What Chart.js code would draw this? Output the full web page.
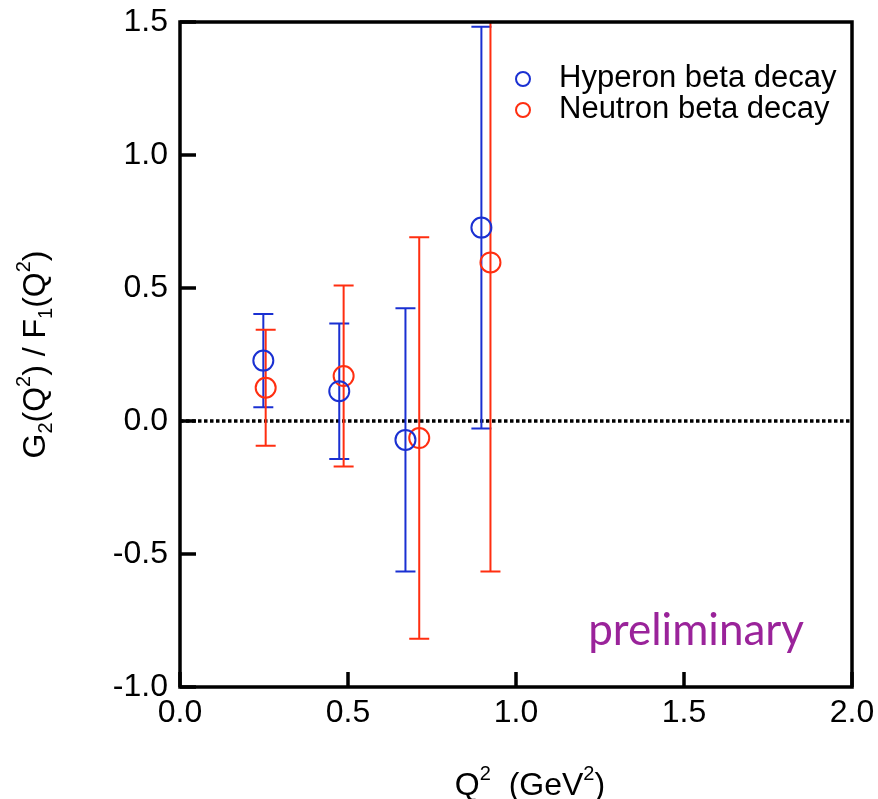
<!DOCTYPE html>
<html>
<head>
<meta charset="utf-8">
<script src="https://cdn.jsdelivr.net/npm/chart.js@4"></script>
<style>
  html, body { margin: 0; padding: 0; background: #fff; }
  #wrap { width: 878px; height: 799px; }
</style>
</head>
<body>
<div id="wrap"><canvas id="g2Chart" width="878" height="799"></canvas></div>
<script>
// Q^2 (GeV^2) y G2/F1
const q2Hyperon = [0.248, 0.474, 0.671, 0.897];
const ratioHyperon = [0.227, 0.112, -0.071, 0.727];
const errHyperon = [0.175, 0.255, 0.495, 0.755];

const q2Neutron = [0.255, 0.487, 0.712, 0.924];
const ratioNeutron = [0.125, 0.169, -0.064, 0.596];
const errNeutron = [0.218, 0.34, 0.755, 1.162];

const xTicks = [0.0, 0.5, 1.0, 1.5, 2.0];
const yTicks = [-1.0, -0.5, 0.0, 0.5, 1.0, 1.5];

const BLUE = '#1a30d2';
const RED = '#ff2e10';
const FONT = '"Liberation Sans", Arial, sans-serif';

const toPoints = (xs, ys, es) => xs.map((x, i) => ({ x: x, y: ys[i], err: es[i] }));

// trozos de texto: [texto, 0 normal | 1 superíndice | -1 subíndice]
const xTitle = [['Q', 0], ['2', 1], ['  (GeV', 0], ['2', 1], [')', 0]];
const yTitle = [['G', 0], ['2', -1], ['(Q', 0], ['2', 1], [') / F', 0], ['1', -1], ['(Q', 0], ['2', 1], [')', 0]];

function drawRich(ctx, parts, cx, baseline) {
    const big = '32px ' + FONT, small = '20px ' + FONT;
    let w = 0;
    parts.forEach(([t, k]) => { ctx.font = k ? small : big; w += ctx.measureText(t).width; });
    let x = cx - w / 2;
    ctx.textAlign = 'left';
    ctx.textBaseline = 'alphabetic';
    parts.forEach(([t, k]) => {
        ctx.font = k ? small : big;
        const dy = k === 1 ? -15 : (k === -1 ? 7 : 0);
        ctx.fillText(t, x, baseline + dy);
        x += ctx.measureText(t).width;
    });
}

// barras de error, marco, ticks hacia dentro, línea de cero, leyenda y texto
const decorations = {
    id: 'decorations',
    beforeDatasetsDraw(chart) {
        const { ctx, chartArea: a, scales: { x, y } } = chart;
        ctx.save();
        ctx.beginPath();
        ctx.rect(a.left, a.top, a.right - a.left, a.bottom - a.top);
        ctx.clip();

        // línea punteada en y = 0
        ctx.strokeStyle = '#000';
        ctx.lineWidth = 3.5;
        ctx.setLineDash([3.5, 2.5]);
        ctx.beginPath();
        ctx.moveTo(a.left, y.getPixelForValue(0));
        ctx.lineTo(a.right, y.getPixelForValue(0));
        ctx.stroke();
        ctx.setLineDash([]);

        chart.data.datasets.forEach(ds => {
            ctx.strokeStyle = ds.borderColor;
            ctx.lineWidth = 2;
            ds.data.forEach(p => {
                const px = x.getPixelForValue(p.x);
                const top = y.getPixelForValue(p.y + p.err);
                const bot = y.getPixelForValue(p.y - p.err);
                ctx.beginPath();
                ctx.moveTo(px, top);
                ctx.lineTo(px, bot);
                ctx.moveTo(px - 10, top);
                ctx.lineTo(px + 10, top);
                ctx.moveTo(px - 10, bot);
                ctx.lineTo(px + 10, bot);
                ctx.stroke();
            });
        });
        ctx.restore();
    },
    afterDatasetsDraw(chart) {
        const { ctx, chartArea: a, scales: { x, y } } = chart;
        ctx.save();
        ctx.strokeStyle = '#000';
        ctx.lineWidth = 3.5;
        ctx.strokeRect(a.left, a.top, a.right - a.left, a.bottom - a.top);

        ctx.beginPath();
        xTicks.forEach(v => {
            const px = x.getPixelForValue(v);
            ctx.moveTo(px, a.bottom);
            ctx.lineTo(px, a.bottom - 15);
        });
        yTicks.forEach(v => {
            const py = y.getPixelForValue(v);
            ctx.moveTo(a.left, py);
            ctx.lineTo(a.left + 16, py);
        });
        ctx.stroke();

        // leyenda
        ctx.font = '31px ' + FONT;
        ctx.textBaseline = 'alphabetic';
        ctx.textAlign = 'left';
        chart.data.datasets.forEach((ds, i) => {
            const ly = 79 + i * 31;
            ctx.strokeStyle = ds.borderColor;
            ctx.lineWidth = 2;
            ctx.beginPath();
            ctx.arc(523, ly, 7, 0, Math.PI * 2);
            ctx.stroke();
            ctx.fillStyle = '#000';
            ctx.fillText(ds.label, 559, ly + 8);
        });

        ctx.fillStyle = '#9a239a';
        ctx.font = '44px Lato, sans-serif';
        ctx.textAlign = 'right';
        ctx.fillText('preliminary', 804, 645);

        // títulos de ejes
        ctx.fillStyle = '#000';
        drawRich(ctx, xTitle, (a.left + a.right) / 2 + 14, 795);
        ctx.translate(45, (a.top + a.bottom) / 2);
        ctx.rotate(-Math.PI / 2);
        drawRich(ctx, yTitle, 0, 0);
        ctx.restore();
    }
};

const ctx = document.getElementById('g2Chart').getContext('2d');
const g2Chart = new Chart(ctx, {
    type: 'scatter',
    data: {
        datasets: [{
            label: 'Hyperon beta decay',
            data: toPoints(q2Hyperon, ratioHyperon, errHyperon),
            borderColor: BLUE,
            backgroundColor: 'rgba(0,0,0,0)',
            pointRadius: 10,
            pointHoverRadius: 10,
            pointBorderWidth: 2
        }, {
            label: 'Neutron beta decay',
            data: toPoints(q2Neutron, ratioNeutron, errNeutron),
            borderColor: RED,
            backgroundColor: 'rgba(0,0,0,0)',
            pointRadius: 10,
            pointHoverRadius: 10,
            pointBorderWidth: 2
        }]
    },
    options: {
        responsive: false,
        animation: false,
        layout: { padding: { top: 22, right: 26, left: 0, bottom: 0 } },
        plugins: {
            legend: { display: false },
            tooltip: { enabled: false }
        },
        scales: {
            x: {
                type: 'linear',
                min: 0,
                max: 2,
                afterFit(scale) {
                    scale.height = 112;
                    scale.paddingLeft = 0;
                    scale.paddingRight = 0;
                },
                afterBuildTicks(scale) { scale.ticks = xTicks.map(v => ({ value: v })); },
                grid: { display: false, drawTicks: false },
                border: { display: false },
                ticks: {
                    color: '#000',
                    padding: 7,
                    maxRotation: 0,
                    font: { family: FONT, size: 32 },
                    callback: v => v.toFixed(1)
                }
            },
            y: {
                type: 'linear',
                min: -1,
                max: 1.5,
                afterFit(scale) {
                    scale.width = 180;
                    scale.paddingTop = 0;
                    scale.paddingBottom = 0;
                },
                afterBuildTicks(scale) { scale.ticks = yTicks.map(v => ({ value: v })); },
                grid: { display: false, drawTicks: false },
                border: { display: false },
                ticks: {
                    color: '#000',
                    padding: 12,
                    font: { family: FONT, size: 32 },
                    callback: v => v.toFixed(1)
                }
            }
        }
    },
    plugins: [decorations]
});
</script>
</body>
</html>
